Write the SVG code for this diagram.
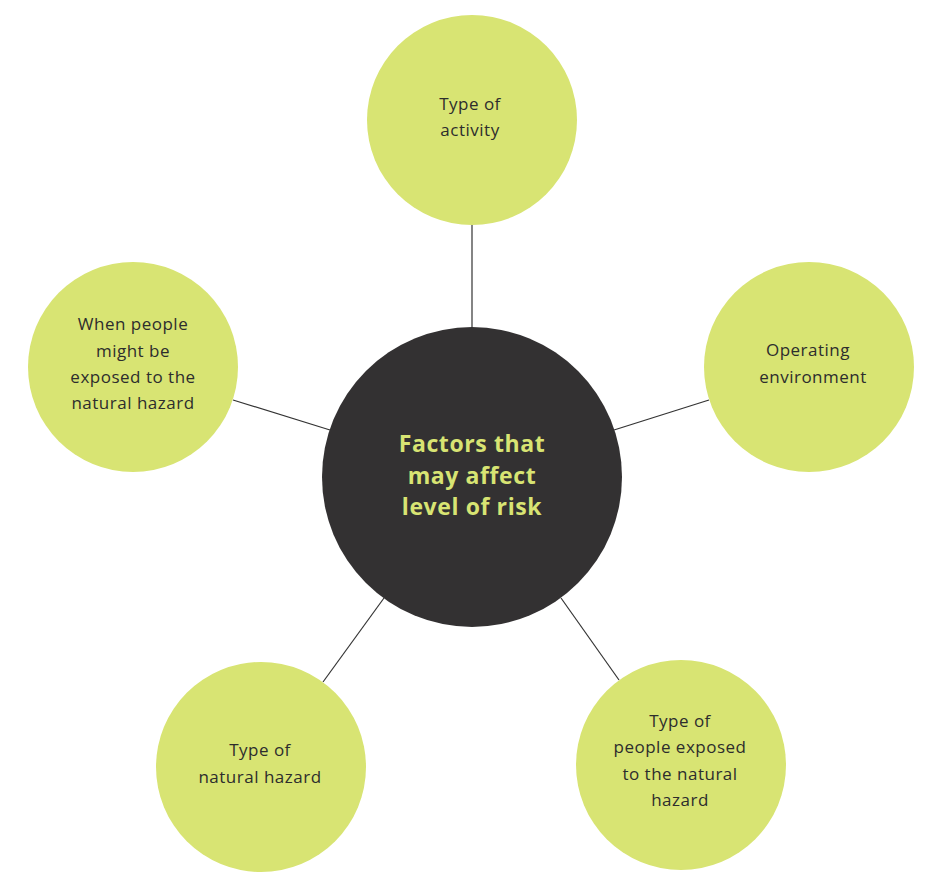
<svg xmlns="http://www.w3.org/2000/svg" width="935" height="893" viewBox="0 0 935 893">
<style>
.n{fill:#d8e473}
.t{font-family:"Open Sans","Liberation Sans",sans-serif;font-size:17px;letter-spacing:0.5px;fill:#2d2d2d;text-anchor:middle}
.c{font-family:"Open Sans","Liberation Sans",sans-serif;font-size:23px;letter-spacing:0.6px;font-weight:bold;fill:#d8e473;text-anchor:middle}
line{stroke:#333;stroke-width:1.2}
</style>
<rect width="935" height="893" fill="#fff"/>
<g id="connectors">
<line x1="472" y1="225" x2="472" y2="330"/>
<line x1="709" y1="400" x2="614" y2="430"/>
<line x1="233" y1="400" x2="330" y2="430"/>
<line x1="384" y1="598" x2="323" y2="682"/>
<line x1="561" y1="598" x2="619" y2="680"/>
</g>
<g id="center"><circle cx="472" cy="477" r="150" fill="#333132"/>
<text class="c" x="472" y="452">Factors that</text><text class="c" x="472" y="484">may affect</text><text class="c" x="472" y="515">level of risk</text></g>
<g id="n1"><circle class="n" cx="472" cy="120" r="105"/><text class="t" x="470" y="110">Type of</text><text class="t" x="470" y="136">activity</text></g>
<g id="n2"><circle class="n" cx="809" cy="367" r="105"/><text class="t" x="808" y="356">Operating</text><text class="t" x="813" y="383">environment</text></g>
<g id="n3"><circle class="n" cx="133" cy="367" r="105"/><text class="t" x="133" y="330">When people</text><text class="t" x="133" y="357">might be</text><text class="t" x="133" y="383">exposed to the</text><text class="t" x="133" y="409">natural hazard</text></g>
<g id="n4"><circle class="n" cx="261" cy="767" r="105"/><text class="t" x="260" y="756">Type of</text><text class="t" x="260" y="783">natural hazard</text></g>
<g id="n5"><circle class="n" cx="681" cy="765" r="105"/><text class="t" x="680" y="727">Type of</text><text class="t" x="680" y="753">people exposed</text><text class="t" x="680" y="780">to the natural</text><text class="t" x="680" y="806">hazard</text></g>
</svg>
